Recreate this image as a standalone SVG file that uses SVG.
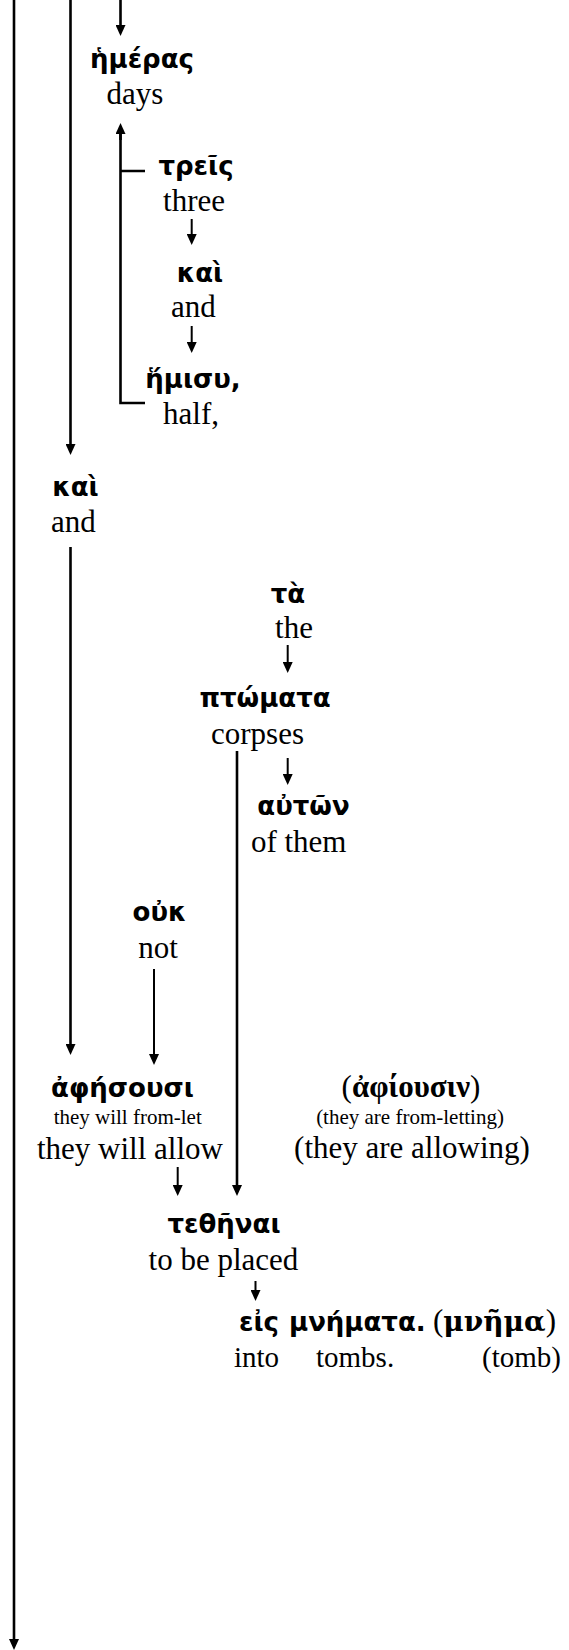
<svg xmlns="http://www.w3.org/2000/svg" width="569" height="1650" viewBox="0 0 569 1650">
<style>
.gk{font-family:"DejaVu Sans","Noto Sans",sans-serif;font-weight:bold;font-size:26px;fill:#000;text-anchor:middle}
.en{font-family:"Liberation Serif","Times New Roman",serif;font-size:31px;fill:#000;text-anchor:middle}
.sm{font-family:"Liberation Serif","Times New Roman",serif;font-size:21px;fill:#000;text-anchor:middle}
.gs{font-family:"Liberation Serif","Times New Roman",serif;font-weight:bold}
.gd{font-family:"DejaVu Serif","Liberation Serif",serif;font-weight:bold;font-size:28px}
.st{text-anchor:start}
.ln{fill:none;stroke:#000;stroke-width:2.6}
.sh{fill:none;stroke:#000;stroke-width:2}
.ar{marker-end:url(#ah)}
</style>
<defs>
<marker id="ah" markerUnits="userSpaceOnUse" markerWidth="11" markerHeight="10" refX="7" refY="5" orient="auto">
<path d="M0,0 L11,5 L0,10 z" fill="#000"/>
</marker>
</defs>
<rect width="569" height="1650" fill="#fff"/>
<g id="connectors">
<line class="ln ar" x1="14" y1="0" x2="14" y2="1646"/>
<line class="ln ar" x1="70.5" y1="0" x2="70.5" y2="451"/>
<line class="ln ar" x1="70.5" y1="547" x2="70.5" y2="1051"/>
<line class="ln ar" x1="120.5" y1="0" x2="120.5" y2="32"/>
<path class="ln" d="M145,171 H120.5 M145,403 H120.5 V127"/>
<line class="ln ar" x1="120.5" y1="140" x2="120.5" y2="127"/>
<line class="sh ar" x1="191.7" y1="219" x2="191.7" y2="241"/>
<line class="sh ar" x1="191.7" y1="326" x2="191.7" y2="349"/>
<line class="sh ar" x1="287.7" y1="645" x2="287.7" y2="669"/>
<line class="sh ar" x1="287.7" y1="758" x2="287.7" y2="781"/>
<line class="ln ar" x1="237" y1="751" x2="237" y2="1192"/>
<line class="sh ar" x1="154" y1="969" x2="154" y2="1061"/>
<line class="sh ar" x1="177.7" y1="1167" x2="177.7" y2="1192"/>
<line class="sh ar" x1="255.5" y1="1281" x2="255.5" y2="1297"/>
</g>
<g id="n-hemeras"><text class="gk" x="142" y="68">ἡμέρας</text><text class="en" x="135" y="104">days</text></g>
<g id="n-treis"><text class="gk" x="196" y="175">τρεῖς</text><text class="en" x="194" y="211">three</text></g>
<g id="n-kai1"><text class="gk" x="200" y="282">καὶ</text><text class="en" x="193.5" y="317">and</text></g>
<g id="n-hemisy"><text class="gk" x="193" y="388">ἥμισυ,</text><text class="en" x="191" y="424">half,</text></g>
<g id="n-kai2"><text class="gk" x="75.5" y="496">καὶ</text><text class="en" x="73.4" y="532">and</text></g>
<g id="n-ta"><text class="gk" x="288" y="603">τὰ</text><text class="en" x="294" y="638">the</text></g>
<g id="n-ptomata"><text class="gk" x="265" y="707">πτώματα</text><text class="en" x="257.5" y="744">corpses</text></g>
<g id="n-auton"><text class="gk" x="303.5" y="815">αὐτῶν</text><text class="en" x="298.7" y="852">of them</text></g>
<g id="n-ouk"><text class="gk" x="159.5" y="921">οὐκ</text><text class="en" x="158" y="958">not</text></g>
<g id="n-aphesousi"><text class="gk" x="122.5" y="1097">ἀφήσουσι</text><text class="sm" x="127.7" y="1124">they will from-let</text><text class="en" x="130" y="1159">they will allow</text></g>
<g id="n-aphiousin"><text class="en" x="411" y="1097"><tspan>(</tspan><tspan class="gs">ἀφίουσιν</tspan><tspan>)</tspan></text><text class="sm" x="410" y="1124">(they are from-letting)</text><text class="en" x="412" y="1158">(they are allowing)</text></g>
<g id="n-tethenai"><text class="gk" x="224" y="1233">τεθῆναι</text><text class="en" x="223.4" y="1270">to be placed</text></g>
<g id="n-eis"><text class="gk st" y="1331"><tspan x="239">εἰς</tspan><tspan x="289">μνήματα.</tspan></text><text class="en st" x="433" y="1331">(<tspan class="gd">μνῆμα</tspan>)</text><text class="en st" y="1367" style="font-size:29px"><tspan x="234">into</tspan><tspan x="316">tombs.</tspan><tspan x="482">(tomb)</tspan></text></g>
</svg>
